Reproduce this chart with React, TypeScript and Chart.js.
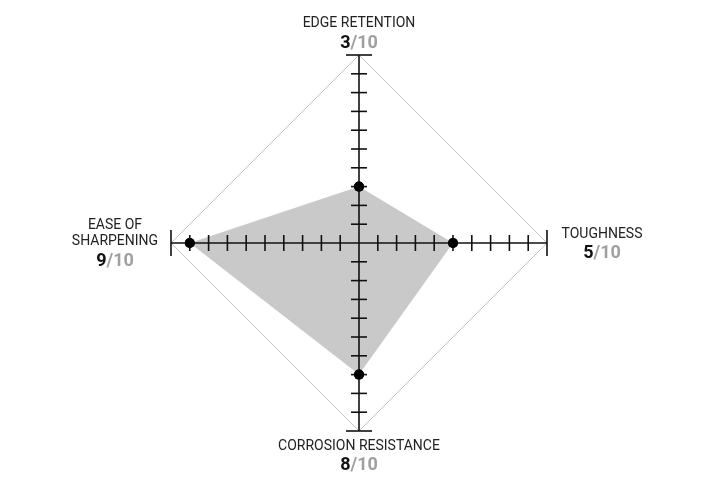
import { useEffect, useRef } from 'react';
import { Chart, registerables } from 'chart.js';

Chart.register(...registerables);

// categories, clockwise from the top
const categories: string[][] = [['EDGE RETENTION'], ['TOUGHNESS'], ['CORROSION RESISTANCE'], ['EASE OF', 'SHARPENING']];
// plotted values (as drawn on the axes)
const values: number[] = [3, 5, 7, 9];
// scores written under the names
const scores: string[] = ['3', '5', '8', '9'];
const scoreMax = '10';
const axisMax = 10;

const FONT = 'Roboto, "Noto Sans", sans-serif';

// draws tick marks across each axis, the labels, and the points on top
const overlayPlugin = {
  id: 'overlay',
  afterDraw(chart: any) {
    const ctx = chart.ctx;
    const scale = chart.scales.r;
    const n = categories.length;
    ctx.save();

    // tick marks
    ctx.strokeStyle = '#111';
    ctx.lineWidth = 1.6;
    for (let i = 0; i < n; i++) {
      const end = scale.getPointPositionForValue(i, axisMax);
      const c = scale.getPointPositionForValue(i, 0);
      const dx = end.x - c.x;
      const dy = end.y - c.y;
      const len = Math.hypot(dx, dy);
      const px = -dy / len;
      const py = dx / len;
      for (let v = 1; v <= axisMax; v++) {
        const p = scale.getPointPositionForValue(i, v);
        const half = v === axisMax ? 13 : 8;
        ctx.beginPath();
        ctx.moveTo(p.x - px * half, p.y - py * half);
        ctx.lineTo(p.x + px * half, p.y + py * half);
        ctx.stroke();
      }
    }

    // labels: y offset of the first name line and of the score, from the axis end
    const nameStep = 16;
    const offsets = [
      { dx: 0, name: -32, score: -12 },
      { dx: 55, name: -9, score: 10 },
      { dx: 0, name: 15, score: 34 },
      { dx: -56, name: -18, score: 18 },
    ];
    ctx.textBaseline = 'middle';
    for (let i = 0; i < n; i++) {
      const end = scale.getPointPositionForValue(i, axisMax);
      const o = offsets[i];
      const cx = end.x + o.dx;
      ctx.textAlign = 'center';
      ctx.font = `14px ${FONT}`;
      ctx.fillStyle = '#222';
      categories[i].forEach((l, k) => ctx.fillText(l, cx, end.y + o.name + nameStep * k));
      const sy = end.y + o.score;
      ctx.font = `bold 18px ${FONT}`;
      const a = scores[i];
      const b = '/' + scoreMax;
      const wa = ctx.measureText(a).width;
      const wb = ctx.measureText(b).width;
      const x0 = cx - (wa + wb) / 2;
      ctx.textAlign = 'left';
      ctx.fillStyle = '#111';
      ctx.fillText(a, x0, sy);
      ctx.fillStyle = '#a0a0a0';
      ctx.fillText(b, x0 + wa, sy);
    }
    ctx.restore();

    // points above the axes
    chart.getDatasetMeta(0).data.forEach((p: any) => p.draw(ctx, chart.chartArea));
  },
};

export default function App() {
  const canvasRef = useRef<HTMLCanvasElement>(null);

  useEffect(() => {
    if (!canvasRef.current) return;
    const chart = new Chart(canvasRef.current, {
      type: 'radar',
      data: {
        labels: categories,
        datasets: [
          {
            data: values,
            backgroundColor: '#c9c9ca',
            borderWidth: 0,
            fill: true,
            pointRadius: 5,
            pointBackgroundColor: '#000',
            pointBorderWidth: 0,
          },
        ],
      },
      options: {
        animation: false,
        responsive: false,
        events: [],
        layout: { padding: { left: 171, right: 173, top: 55, bottom: 49 } },
        plugins: { legend: { display: false }, tooltip: { enabled: false } },
        scales: {
          r: {
            min: 0,
            max: axisMax,
            ticks: { display: false, stepSize: axisMax },
            pointLabels: { display: false },
            grid: { color: '#c4c4c4', lineWidth: 1, z: 1 },
            angleLines: { color: '#111', lineWidth: 1.6 },
          },
        },
      },
      plugins: [overlayPlugin],
    });
    return () => chart.destroy();
  }, []);

  return (
    <div style={{ position: 'fixed', left: 0, top: 0, width: 720, height: 480, background: '#fff' }}>
      <canvas ref={canvasRef} width={720} height={480} />
    </div>
  );
}
